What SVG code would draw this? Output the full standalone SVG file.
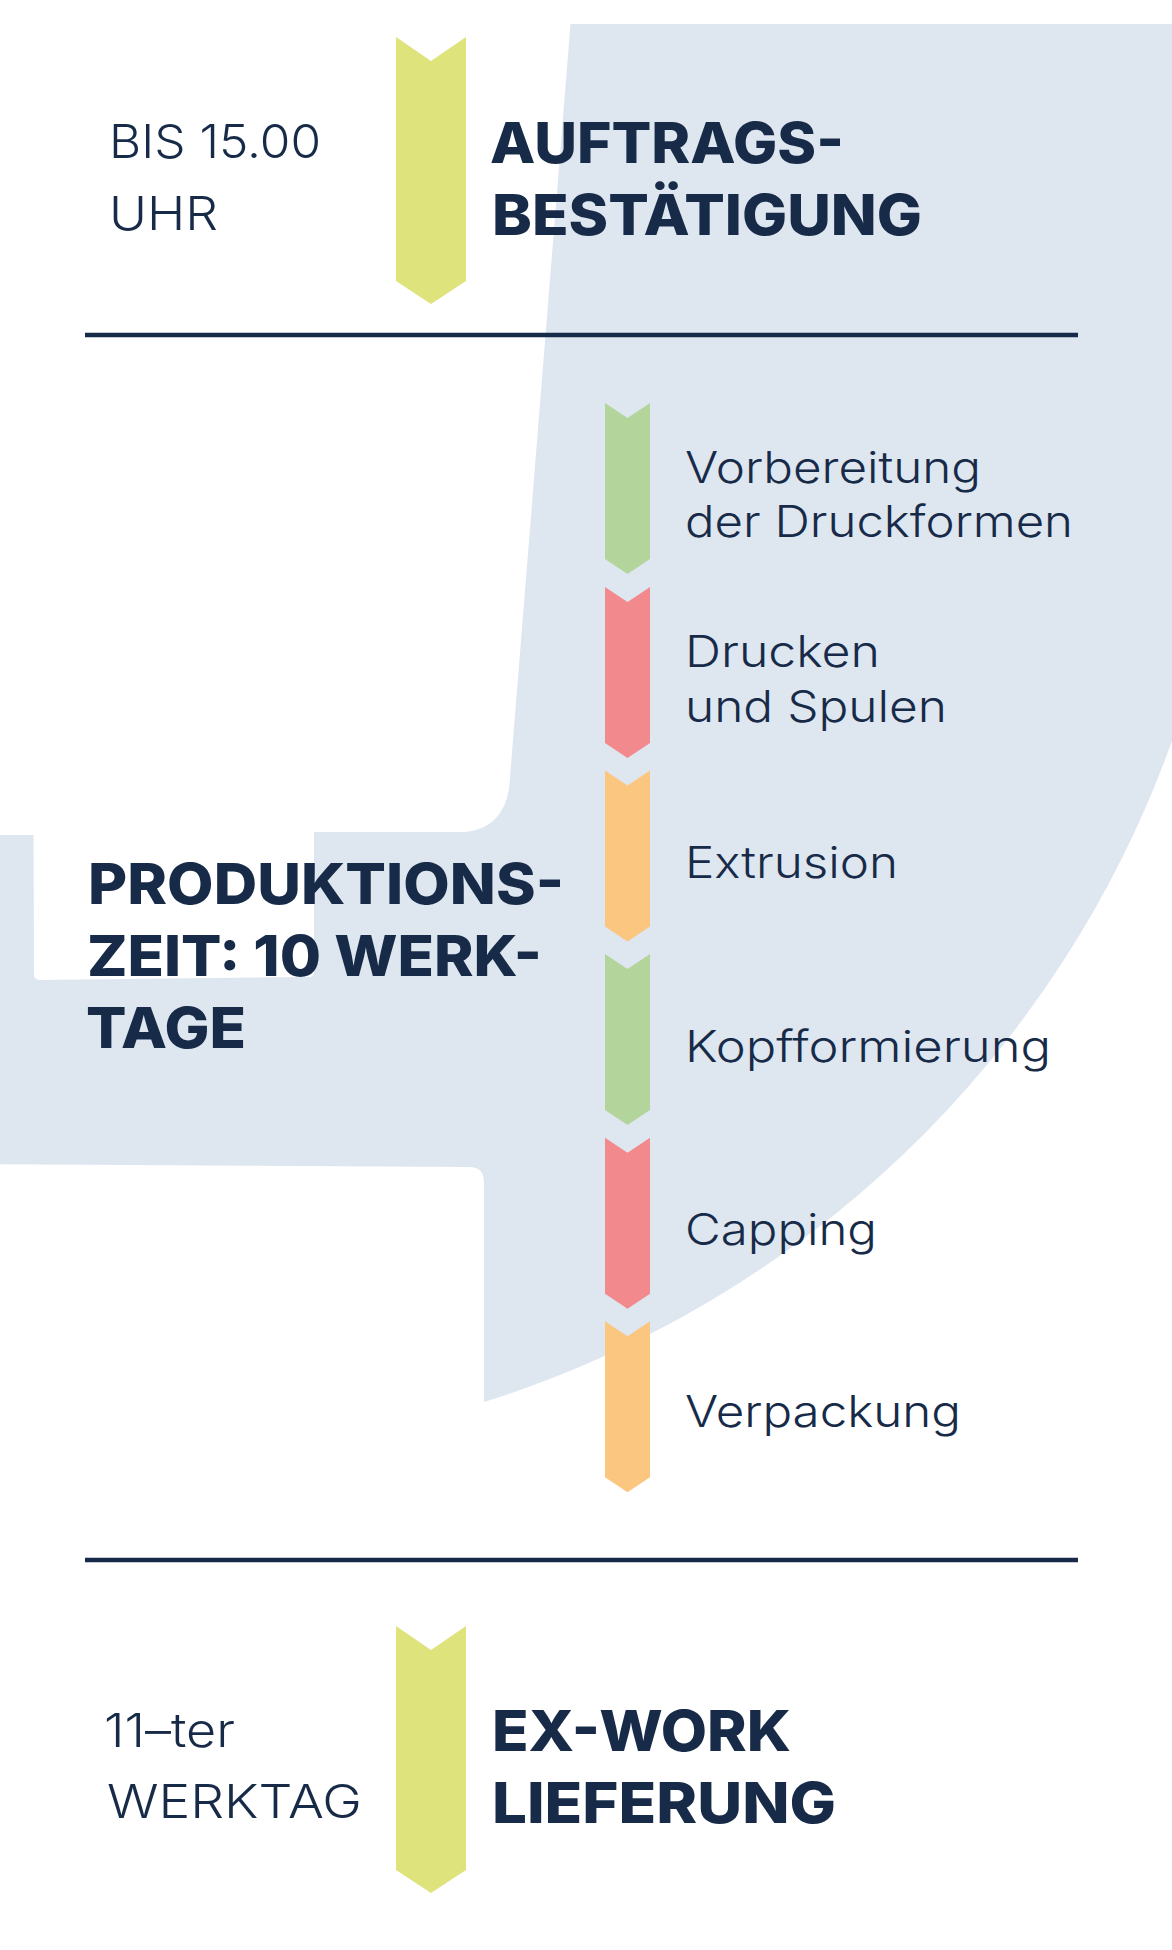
<svg xmlns="http://www.w3.org/2000/svg" width="1172" height="1950" viewBox="0 0 1172 1950">
  <style>
    .bg { fill: #DEE6F0; }
    .txt { fill: #172B48; font-family: Inter, "Noto Sans", "Liberation Sans", sans-serif; }
    .step { font-size: 44px; font-weight: 300; }
    .side { font-size: 47px; font-weight: 300; }
    .head { font-size: 57px; font-weight: 800; }
    .lime { fill: #DFE37B; }
    .green { fill: #B3D59B; }
    .pink { fill: #F2898D; }
    .orange { fill: #FBC680; }
    .rule { stroke: #172B48; stroke-width: 4.5; fill: none; }
  </style>
  <defs>
    <path id="big-arrow" d="M0,0 L35,24 L70,0 L70,244 L35,267 L0,244 Z"/>
    <path id="small-arrow" d="M0,0 L22.5,15 L45,0 L45,156 L22.5,171 L0,156 Z"/>
  </defs>
  <rect x="0" y="0" width="1172" height="1950" fill="#FFFFFF"/>

  <path id="background-shape" class="bg" d="M570.5,24 L1172,24 L1172,741 A1072.4,1072.4 0 0 1 484,1402 L484,1182 Q484,1167 469,1167 L0,1164.3 L0,835 L33.5,835 L34,974 Q34,980 40,980 L309,977 Q314,977 314,972 L314,832 L462,832 C490,831.5 507,813 509.5,784 Z"/>

  <g id="dividers">
    <line class="rule" x1="85" y1="335" x2="1078" y2="335"/>
    <line class="rule" x1="85" y1="1560" x2="1078" y2="1560"/>
  </g>

  <g id="order-confirmation">
    <use href="#big-arrow" class="lime" x="396" y="37"/>
    <text class="txt side" x="109" y="158" textLength="212" lengthAdjust="spacingAndGlyphs">BIS 15.00</text>
    <text class="txt side" x="109" y="230" textLength="109" lengthAdjust="spacingAndGlyphs">UHR</text>
    <text class="txt head" x="490" y="163" textLength="354" lengthAdjust="spacingAndGlyphs">AUFTRAGS-</text>
    <text class="txt head" x="492" y="235" textLength="430" lengthAdjust="spacingAndGlyphs">BESTÄTIGUNG</text>
  </g>

  <g id="production-time">
    <text class="txt head" x="88" y="904" textLength="476" lengthAdjust="spacingAndGlyphs">PRODUKTIONS-</text>
    <text class="txt head" x="87" y="976" textLength="455" lengthAdjust="spacingAndGlyphs">ZEIT: 10 WERK-</text>
    <text class="txt head" x="86" y="1048" textLength="160" lengthAdjust="spacingAndGlyphs">TAGE</text>
  </g>

  <g id="step-vorbereitung">
    <use href="#small-arrow" class="green" x="605" y="403"/>
    <text class="txt step" x="685" y="483" textLength="296" lengthAdjust="spacingAndGlyphs">Vorbereitung</text>
    <text class="txt step" x="685" y="537" textLength="388" lengthAdjust="spacingAndGlyphs">der Druckformen</text>
  </g>

  <g id="step-drucken">
    <use href="#small-arrow" class="pink" x="605" y="587"/>
    <text class="txt step" x="685" y="667" textLength="195" lengthAdjust="spacingAndGlyphs">Drucken</text>
    <text class="txt step" x="685" y="722" textLength="262" lengthAdjust="spacingAndGlyphs">und Spulen</text>
  </g>

  <g id="step-extrusion">
    <use href="#small-arrow" class="orange" x="605" y="770.5"/>
    <text class="txt step" x="685" y="878" textLength="213" lengthAdjust="spacingAndGlyphs">Extrusion</text>
  </g>

  <g id="step-kopfformierung">
    <use href="#small-arrow" class="green" x="605" y="954"/>
    <text class="txt step" x="685" y="1061.5" textLength="366" lengthAdjust="spacingAndGlyphs">Kopfformierung</text>
  </g>

  <g id="step-capping">
    <use href="#small-arrow" class="pink" x="605" y="1137.7"/>
    <text class="txt step" x="685" y="1244.5" textLength="192" lengthAdjust="spacingAndGlyphs">Capping</text>
  </g>

  <g id="step-verpackung">
    <use href="#small-arrow" class="orange" x="605" y="1321.3"/>
    <text class="txt step" x="685" y="1427" textLength="276" lengthAdjust="spacingAndGlyphs">Verpackung</text>
  </g>

  <g id="ex-work-delivery">
    <use href="#big-arrow" class="lime" x="396" y="1626"/>
    <text class="txt side" x="104" y="1747" textLength="131" lengthAdjust="spacingAndGlyphs">11–ter</text>
    <text class="txt side" x="107" y="1818" textLength="255" lengthAdjust="spacingAndGlyphs">WERKTAG</text>
    <text class="txt head" x="492" y="1751" textLength="299" lengthAdjust="spacingAndGlyphs">EX-WORK</text>
    <text class="txt head" x="492" y="1823" textLength="344" lengthAdjust="spacingAndGlyphs">LIEFERUNG</text>
  </g>
</svg>
